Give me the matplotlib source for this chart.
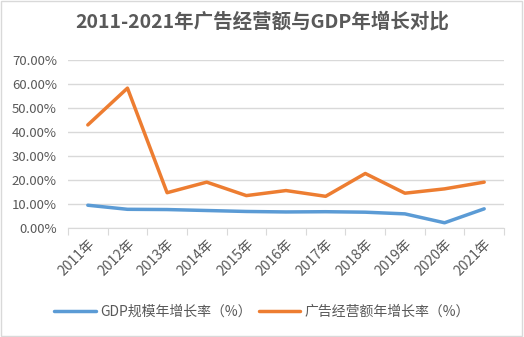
import matplotlib.pyplot as plt
from matplotlib.ticker import PercentFormatter
from matplotlib.patches import Rectangle

plt.rcParams['font.family'] = ['Noto Sans CJK SC', 'DejaVu Sans']

years = ['2011年', '2012年', '2013年', '2014年', '2015年', '2016年',
         '2017年', '2018年', '2019年', '2020年', '2021年']
gdp_growth = [9.6, 7.9, 7.8, 7.4, 7.0, 6.8, 6.9, 6.7, 6.0, 2.3, 8.1]
ad_growth = [43.0, 58.3, 14.8, 19.2, 13.6, 15.7, 13.3, 22.8, 14.6, 16.4, 19.2]

gray = '#595959'

fig = plt.figure(figsize=(5.24, 3.37), dpi=100)
ax = fig.add_axes([68 / 524, 1 - 228.3 / 337, 436 / 524, 168.3 / 337])

x = range(len(years))
ax.plot(x, gdp_growth, color='#5B9BD5', lw=2.5, solid_capstyle='round',
        label='GDP规模年增长率（%）')
ax.plot(x, ad_growth, color='#ED7D31', lw=2.5, solid_capstyle='round',
        label='广告经营额年增长率（%）')

ax.set_xlim(-0.5, len(years) - 0.5)
ax.set_ylim(0, 70)
ax.set_yticks(range(0, 71, 10))
ax.yaxis.set_major_formatter(PercentFormatter(decimals=2))
ax.grid(axis='y', color='#D9D9D9', lw=1)
ax.set_axisbelow(True)

# category axis: ticks sit between categories
ax.set_xticks([i - 0.5 for i in range(len(years) + 1)])
ax.set_xticklabels([])
ax.set_xticks(list(x), minor=True)
ax.set_xticklabels(years, minor=True, rotation=45, ha='right',
                   rotation_mode='anchor', fontsize=10, color=gray)
ax.tick_params(axis='x', which='major', length=5, color='#D9D9D9')
ax.tick_params(axis='x', which='minor', length=0, pad=6)
ax.tick_params(axis='y', length=0, labelsize=9.5, labelcolor=gray, pad=8)

for s in ['top', 'right', 'left']:
    ax.spines[s].set_visible(False)
ax.spines['bottom'].set_color('#D9D9D9')

fig.text(0.5, 1 - 22 / 337, '2011-2021年广告经营额与GDP年增长对比',
         ha='center', va='center', fontsize=14, fontweight='bold', color=gray)

fig.legend(loc='center', bbox_to_anchor=(0.5, 1 - 312 / 337), ncol=2,
           frameon=False, fontsize=10, labelcolor=gray, handlelength=3.0,
           columnspacing=0.5, handletextpad=0.3)

fig.patches.append(Rectangle((0.002, 0.003), 0.994, 0.994, transform=fig.transFigure,
                             fill=False, edgecolor='#D9D9D9', lw=1))

fig.savefig('out.png', dpi=100)
